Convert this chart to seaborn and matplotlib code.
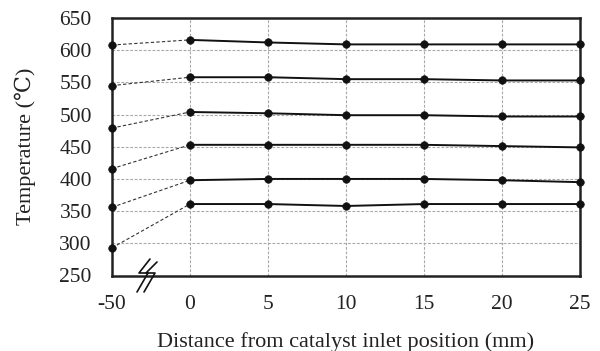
import numpy as np
import pandas as pd
import matplotlib
matplotlib.use("Agg")
import matplotlib.pyplot as plt
import seaborn as sns
from matplotlib.lines import Line2D

# ---- data ----
distances = ["-50", "0", "5", "10", "15", "20", "25"]
s1 = [608, 616, 612, 609, 609, 609, 609]
s2 = [545, 558, 558, 555, 555, 553, 553]
s3 = [479, 504, 502, 499, 499, 497, 497]
s4 = [416, 453, 453, 453, 453, 451, 449]
s5 = [356, 398, 400, 400, 400, 398, 395]
s6 = [293, 361, 361, 358, 361, 361, 361]
series = {"s1": s1, "s2": s2, "s3": s3, "s4": s4, "s5": s5, "s6": s6}
yticks = [250, 300, 350, 400, 450, 500, 550, 600, 650]

rows = []
for name, vals in series.items():
    for i, (d, v) in enumerate(zip(distances, vals)):
        rows.append({"series": name, "pos": i, "dist": d, "temp": v})
df = pd.DataFrame(rows)

sns.set_theme(style="white")
plt.rcParams["font.family"] = ["Liberation Serif", "DejaVu Serif", "DejaVu Sans"]

fig = plt.figure(figsize=(6.0, 3.51), dpi=100)
ax = fig.add_axes([112/600, 1-275.5/351, (580-112)/600, (275.5-18)/351])

# grid
for yv in yticks[1:-1]:
    ax.axhline(yv, color="#a8a8a8", lw=0.8, ls=(0, (2.5, 1.5)), zorder=0)
for xv in range(1, 6):
    ax.axvline(xv, color="#a8a8a8", lw=0.8, ls=(0, (2.5, 1.5)), zorder=0)

# dashed segments (-50 -> 0)
dash = df[df["pos"] <= 1]
sns.lineplot(data=dash, x="pos", y="temp", units="series", estimator=None,
             color="#333333", lw=0.8, ls=(0, (3, 2)), ax=ax, legend=False, zorder=2)
# solid segments (0 -> 25)
solid = df[df["pos"] >= 1]
sns.lineplot(data=solid, x="pos", y="temp", units="series", estimator=None,
             color="#111111", lw=1.4, ax=ax, legend=False, zorder=3)
# markers
sns.scatterplot(data=df, x="pos", y="temp", color="#111111", s=30,
                edgecolor="#111111", ax=ax, legend=False, zorder=4, clip_on=False)

ax.set_xlim(0, 6)
ax.set_ylim(250, 650)
ax.set_xticks(range(len(distances)))
ax.set_xticklabels(distances)
ax.set_yticks(yticks)
ax.tick_params(axis="both", length=0, labelsize=15.5, colors="#222222")
ax.tick_params(axis="y", pad=14.5)
ax.tick_params(axis="x", pad=14)
for sp in ax.spines.values():
    sp.set_visible(True)
    sp.set_color("#222222")
    sp.set_linewidth(1.8)

ax.set_xlabel("Distance from catalyst inlet position (mm)", fontsize=16,
              color="#222222", labelpad=13)
ax.set_ylabel("Temperature (℃)", fontsize=16, color="#222222", labelpad=17)

# axis break marks
def fpt(x, y):
    return x/600, 1 - y/351
for dx, ytop in [(0, 259), (7, 262)]:
    pts = [(150+dx, ytop), (139+dx, 273), (148+dx, 273), (137+dx, 292)]
    xs, ys = zip(*[fpt(*p) for p in pts])
    fig.add_artist(Line2D(xs, ys, color="#111111", lw=1.2, transform=fig.transFigure))

fig.savefig("out.png", dpi=100, facecolor="white")
